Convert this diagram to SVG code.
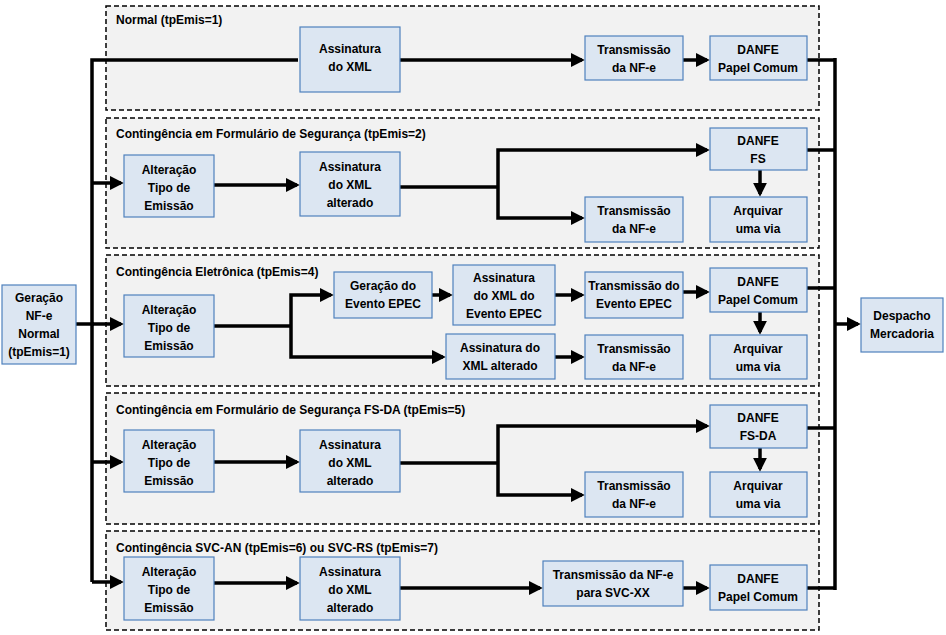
<svg xmlns="http://www.w3.org/2000/svg" width="946" height="635" viewBox="0 0 946 635">
<defs>
<marker id="ah" markerWidth="4" markerHeight="4" refX="3.2" refY="2" orient="auto" markerUnits="strokeWidth"><path d="M0,0 L4,2 L0,4 z" fill="#000"/></marker>
<style>
.pn{fill:#f2f2f2;stroke:#000;stroke-width:1.5;stroke-dasharray:5,3}
.bx{fill:#dce6f2;stroke:#4f81bd;stroke-width:1.2}
text{font-family:"Liberation Sans",Arial,sans-serif;font-weight:bold;font-size:12px;fill:#000}
.t{text-anchor:middle}
.c{fill:none;stroke:#000;stroke-width:3.5}
.a{marker-end:url(#ah)}
</style>
</defs>
<g id="panels">
<rect class="pn" x="106" y="6" width="713" height="104"/>
<rect class="pn" x="106" y="118" width="713" height="130"/>
<rect class="pn" x="106" y="255" width="713" height="131"/>
<rect class="pn" x="106" y="393" width="713" height="131"/>
<rect class="pn" x="106" y="531" width="713" height="99"/>
<text x="116" y="24">Normal (tpEmis=1)</text>
<text x="116" y="138">Contingência em Formulário de Segurança (tpEmis=2)</text>
<text x="116" y="276">Contingência Eletrônica (tpEmis=4)</text>
<text x="116" y="414">Contingência em Formulário de Segurança FS-DA (tpEmis=5)</text>
<text x="116" y="552">Contingência SVC-AN (tpEmis=6) ou SVC-RS (tpEmis=7)</text>
</g>
<g id="connectors">
<path class="c" d="M76,324 H94"/>
<path class="c" d="M92,582 V60 H298"/>
<path class="c a" d="M400,60 H582"/>
<path class="c a" d="M683,60 H707"/>
<path class="c a" d="M92,183 H121"/>
<path class="c a" d="M214,185 H297"/>
<path class="c" d="M400,187 H498"/>
<path class="c a" d="M498,187 V150 H707"/>
<path class="c a" d="M498,187 V218 H582"/>
<path class="c a" d="M760,170 V194"/>
<path class="c a" d="M92,324 H121"/>
<path class="c" d="M214,326 H291"/>
<path class="c a" d="M291,326 V295 H331"/>
<path class="c a" d="M291,326 V357 H443"/>
<path class="c a" d="M432,295 H450"/>
<path class="c a" d="M555,295 H582"/>
<path class="c a" d="M683,292 H707"/>
<path class="c a" d="M555,357 H582"/>
<path class="c a" d="M760,312 V332"/>
<path class="c a" d="M92,462 H121"/>
<path class="c a" d="M214,462 H297"/>
<path class="c" d="M400,463 H498"/>
<path class="c a" d="M498,463 V426 H707"/>
<path class="c a" d="M498,463 V495 H582"/>
<path class="c a" d="M760,448 V469"/>
<path class="c a" d="M92,582 H121"/>
<path class="c a" d="M214,583 H297"/>
<path class="c a" d="M400,588 H540"/>
<path class="c a" d="M683,588 H707"/>
<path class="c" d="M807,60 H835 M807,150 H835 M807,288 H835 M807,428 H835 M807,588 H835"/>
<path class="c" d="M835,58 V590"/>
<path class="c a" d="M835,324 H858"/>
</g>
<g id="n-geracao"><rect class="bx" x="2" y="285" width="74" height="79"/><text class="t" x="39" y="302">Geração</text><text class="t" x="39" y="320">NF-e</text><text class="t" x="39" y="338">Normal</text><text class="t" x="39" y="356">(tpEmis=1)</text></g>
<g id="n-despacho"><rect class="bx" x="861" y="298" width="82" height="54"/><text class="t" x="902" y="320">Despacho</text><text class="t" x="902" y="338">Mercadoria</text></g>
<g id="n1-ass"><rect class="bx" x="300" y="27" width="100" height="65"/><text class="t" x="350" y="53">Assinatura</text><text class="t" x="350" y="71">do XML</text></g>
<g id="n1-tr"><rect class="bx" x="585" y="36" width="98" height="44"/><text class="t" x="634" y="54">Transmissão</text><text class="t" x="634" y="72">da NF-e</text></g>
<g id="n1-danfe"><rect class="bx" x="710" y="36" width="97" height="44"/><text class="t" x="758" y="54">DANFE</text><text class="t" x="758" y="72">Papel Comum</text></g>
<g id="n2-alt"><rect class="bx" x="124" y="155" width="90" height="62"/><text class="t" x="169" y="174">Alteração</text><text class="t" x="169" y="192">Tipo de</text><text class="t" x="169" y="210">Emissão</text></g>
<g id="n2-ass"><rect class="bx" x="300" y="152" width="100" height="64"/><text class="t" x="350" y="171">Assinatura</text><text class="t" x="350" y="189">do XML</text><text class="t" x="350" y="207">alterado</text></g>
<g id="n2-danfe"><rect class="bx" x="710" y="128" width="97" height="42"/><text class="t" x="758" y="145">DANFE</text><text class="t" x="758" y="163">FS</text></g>
<g id="n2-tr"><rect class="bx" x="585" y="197" width="98" height="45"/><text class="t" x="634" y="215">Transmissão</text><text class="t" x="634" y="233">da NF-e</text></g>
<g id="n2-arq"><rect class="bx" x="710" y="197" width="97" height="45"/><text class="t" x="758" y="215">Arquivar</text><text class="t" x="758" y="233">uma via</text></g>
<g id="n3-alt"><rect class="bx" x="124" y="295" width="90" height="62"/><text class="t" x="169" y="314">Alteração</text><text class="t" x="169" y="332">Tipo de</text><text class="t" x="169" y="350">Emissão</text></g>
<g id="n3-ger"><rect class="bx" x="334" y="272" width="98" height="46"/><text class="t" x="383" y="290">Geração do</text><text class="t" x="383" y="308">Evento EPEC</text></g>
<g id="n3-assev"><rect class="bx" x="453" y="265" width="102" height="60"/><text class="t" x="504" y="282">Assinatura</text><text class="t" x="504" y="300">do XML do</text><text class="t" x="504" y="318">Evento EPEC</text></g>
<g id="n3-trev"><rect class="bx" x="585" y="272" width="98" height="46"/><text class="t" x="634" y="290">Transmissão do</text><text class="t" x="634" y="308">Evento EPEC</text></g>
<g id="n3-danfe"><rect class="bx" x="710" y="268" width="97" height="44"/><text class="t" x="758" y="286">DANFE</text><text class="t" x="758" y="304">Papel Comum</text></g>
<g id="n3-ass"><rect class="bx" x="446" y="334" width="109" height="45"/><text class="t" x="500" y="352">Assinatura do</text><text class="t" x="500" y="370">XML alterado</text></g>
<g id="n3-tr"><rect class="bx" x="585" y="335" width="98" height="44"/><text class="t" x="634" y="353">Transmissão</text><text class="t" x="634" y="371">da NF-e</text></g>
<g id="n3-arq"><rect class="bx" x="710" y="335" width="97" height="44"/><text class="t" x="758" y="353">Arquivar</text><text class="t" x="758" y="371">uma via</text></g>
<g id="n4-alt"><rect class="bx" x="124" y="430" width="90" height="62"/><text class="t" x="169" y="449">Alteração</text><text class="t" x="169" y="467">Tipo de</text><text class="t" x="169" y="485">Emissão</text></g>
<g id="n4-ass"><rect class="bx" x="300" y="430" width="100" height="62"/><text class="t" x="350" y="449">Assinatura</text><text class="t" x="350" y="467">do XML</text><text class="t" x="350" y="485">alterado</text></g>
<g id="n4-danfe"><rect class="bx" x="710" y="405" width="97" height="43"/><text class="t" x="758" y="422">DANFE</text><text class="t" x="758" y="440">FS-DA</text></g>
<g id="n4-tr"><rect class="bx" x="585" y="472" width="98" height="45"/><text class="t" x="634" y="490">Transmissão</text><text class="t" x="634" y="508">da NF-e</text></g>
<g id="n4-arq"><rect class="bx" x="710" y="472" width="97" height="45"/><text class="t" x="758" y="490">Arquivar</text><text class="t" x="758" y="508">uma via</text></g>
<g id="n5-alt"><rect class="bx" x="124" y="557" width="90" height="63"/><text class="t" x="169" y="576">Alteração</text><text class="t" x="169" y="594">Tipo de</text><text class="t" x="169" y="612">Emissão</text></g>
<g id="n5-ass"><rect class="bx" x="300" y="557" width="100" height="63"/><text class="t" x="350" y="576">Assinatura</text><text class="t" x="350" y="594">do XML</text><text class="t" x="350" y="612">alterado</text></g>
<g id="n5-tr"><rect class="bx" x="543" y="561" width="140" height="45"/><text class="t" x="613" y="579">Transmissão da NF-e</text><text class="t" x="613" y="597">para  SVC-XX</text></g>
<g id="n5-danfe"><rect class="bx" x="710" y="565" width="97" height="45"/><text class="t" x="758" y="583">DANFE</text><text class="t" x="758" y="601">Papel Comum</text></g>
</svg>
